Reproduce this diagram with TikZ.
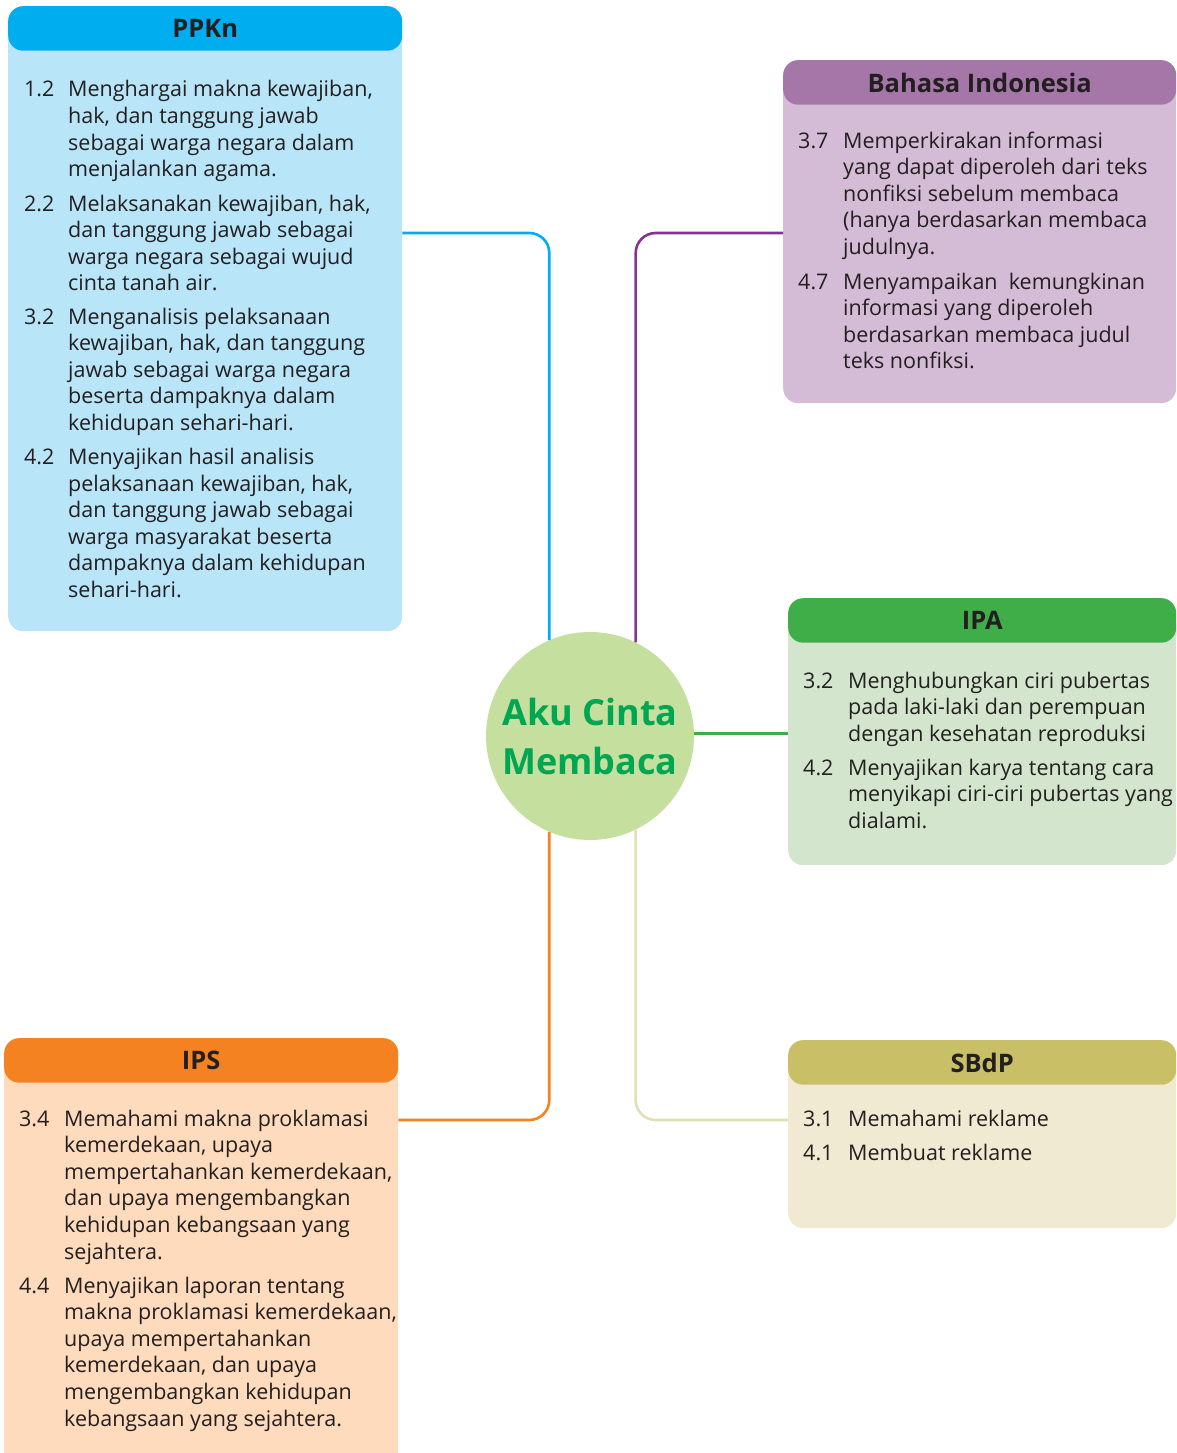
\documentclass[tikz,border=0pt]{standalone}
\usepackage{fontspec}
\setmainfont{Open Sans}
\definecolor{ppknhead}{HTML}{00AEEF}
\definecolor{ppknbody}{HTML}{B9E5F9}
\definecolor{bahead}{HTML}{A577A8}
\definecolor{babody}{HTML}{D5BCD6}
\definecolor{baline}{HTML}{80358F}
\definecolor{ipahead}{HTML}{3FAE49}
\definecolor{ipabody}{HTML}{D3E6CD}
\definecolor{sbhead}{HTML}{C8BF67}
\definecolor{sbbody}{HTML}{F0EAD3}
\definecolor{sbline}{HTML}{E3DFB5}
\definecolor{ipshead}{HTML}{F58220}
\definecolor{ipsbody}{HTML}{FEDBBC}
\definecolor{circfill}{HTML}{C5DF9E}
\definecolor{circtext}{HTML}{00A651}
\definecolor{ink}{HTML}{231F20}
\newcommand{\kd}[6]{%
  \node[numtxt, anchor=base west] (#1n) at (#2,#4) {#5};
  \node[bodytxt, anchor=base west] (#1t) at (#3,#4) {\parbox[t]{340pt}{\raggedright #6}};}
\begin{document}
\begin{tikzpicture}[x=1pt,y=-1pt,
  bodybox/.style={rectangle, rounded corners=15pt, inner sep=0pt, anchor=north west, draw=none},
  headbox/.style={rectangle, rounded corners=15pt, inner sep=0pt, anchor=north west, draw=none,
    minimum height=44.5pt, text=ink, font=\fontsize{25.5}{28}\selectfont\bfseries},
  numtxt/.style={inner sep=0pt, text=ink, font=\fontsize{21.5}{26.6}\selectfont},
  bodytxt/.style={inner sep=0pt, text=ink, font=\fontsize{21.5}{26.6}\selectfont},
  conn/.style={line width=2.6pt, rounded corners=20pt}]
\useasboundingbox (0,0) rectangle (1176,1453);
\clip (0,0) rectangle (1176,1453);

% boxes
\node[bodybox, fill=ppknbody, minimum width=394pt, minimum height=625pt] (ppkn) at (8,6) {};
\node[headbox, fill=ppknhead, minimum width=394pt] (ppknh) at (8,6) {PPKn};

\node[bodybox, fill=babody, minimum width=393pt, minimum height=343pt] (bind) at (783,60) {};
\node[headbox, fill=bahead, minimum width=393pt] (bindh) at (783,60) {Bahasa Indonesia};

\node[bodybox, fill=ipabody, minimum width=388pt, minimum height=267pt] (ipa) at (788,598) {};
\node[headbox, fill=ipahead, minimum width=388pt] (ipah) at (788,598) {IPA};

\node[bodybox, fill=sbbody, minimum width=388pt, minimum height=188pt] (sbdp) at (788,1040) {};
\node[headbox, fill=sbhead, minimum width=388pt] (sbdph) at (788,1040) {SBdP};

\node[bodybox, fill=ipsbody, minimum width=394pt, minimum height=440pt] (ips) at (4,1038) {};
\node[headbox, fill=ipshead, minimum width=394pt] (ipsh) at (4,1038) {IPS};

% centre
\node[circle, fill=circfill, minimum size=208pt, inner sep=0pt] (circ) at (590,736) {};
\node[text=circtext, align=center, font=\fontsize{36}{49}\selectfont\bfseries] (title) at (circ.center) {Aku Cinta\\Membaca};

% connectors
\draw[conn, ppknhead] ([yshift=-227pt]ppkn.north east) -| (circ.113.1);
\draw[conn, baline] ([yshift=-173pt]bind.north west) -| (circ.64.4);
\draw[line width=2.6pt, ipahead] ([yshift=2.5pt]circ.east) -- ([yshift=2.5pt]circ.east -| ipa.west);
\draw[conn, sbline] (circ.-64.4) |- ([yshift=-80pt]sbdp.north west);
\draw[conn, ipshead] (circ.-113.1) |- ([yshift=-82pt]ips.north east);

% PPKn items
\kd{p1}{24}{68}{97}{1.2}{Menghargai makna kewajiban,\\hak, dan tanggung jawab\\sebagai warga negara dalam\\menjalankan agama.}
\kd{p2}{24}{68}{211}{2.2}{Melaksanakan kewajiban, hak,\\dan tanggung jawab sebagai\\warga negara sebagai wujud\\cinta tanah air.}
\kd{p3}{24}{68}{324}{3.2}{Menganalisis pelaksanaan\\kewajiban, hak, dan tanggung\\jawab sebagai warga negara\\beserta dampaknya dalam\\kehidupan sehari-hari.}
\kd{p4}{24}{68}{464.5}{4.2}{Menyajikan hasil analisis\\pelaksanaan kewajiban, hak,\\dan tanggung jawab sebagai\\warga masyarakat beserta\\dampaknya dalam kehidupan\\sehari-hari.}

% Bahasa Indonesia items
\kd{b1}{798}{843}{148}{3.7}{Memperkirakan informasi\\yang dapat diperoleh dari teks\\nonfiksi sebelum membaca\\(hanya berdasarkan membaca\\judulnya.}
\kd{b2}{798}{843}{289}{4.7}{Menyampaikan\ \ kemungkinan\\informasi yang diperoleh\\berdasarkan membaca judul\\teks nonfiksi.}

% IPA items
\kd{i1}{803}{848}{688}{3.2}{Menghubungkan ciri pubertas\\pada laki-laki dan perempuan\\dengan kesehatan reproduksi}
\kd{i2}{803}{848}{775}{4.2}{Menyajikan karya tentang cara\\menyikapi ciri-ciri pubertas yang\\dialami.}

% SBdP items
\kd{s1}{803}{848}{1126}{3.1}{Memahami reklame}
\kd{s2}{803}{848}{1160}{4.1}{Membuat reklame}

% IPS items
\kd{o1}{19}{64}{1126}{3.4}{Memahami makna proklamasi\\kemerdekaan, upaya\\mempertahankan kemerdekaan,\\dan upaya mengembangkan\\kehidupan kebangsaan yang\\sejahtera.}
\kd{o2}{19}{64}{1293}{4.4}{Menyajikan laporan tentang\\makna proklamasi kemerdekaan,\\upaya mempertahankan\\kemerdekaan, dan upaya\\mengembangkan kehidupan\\kebangsaan yang sejahtera.}
\end{tikzpicture}
\end{document}
